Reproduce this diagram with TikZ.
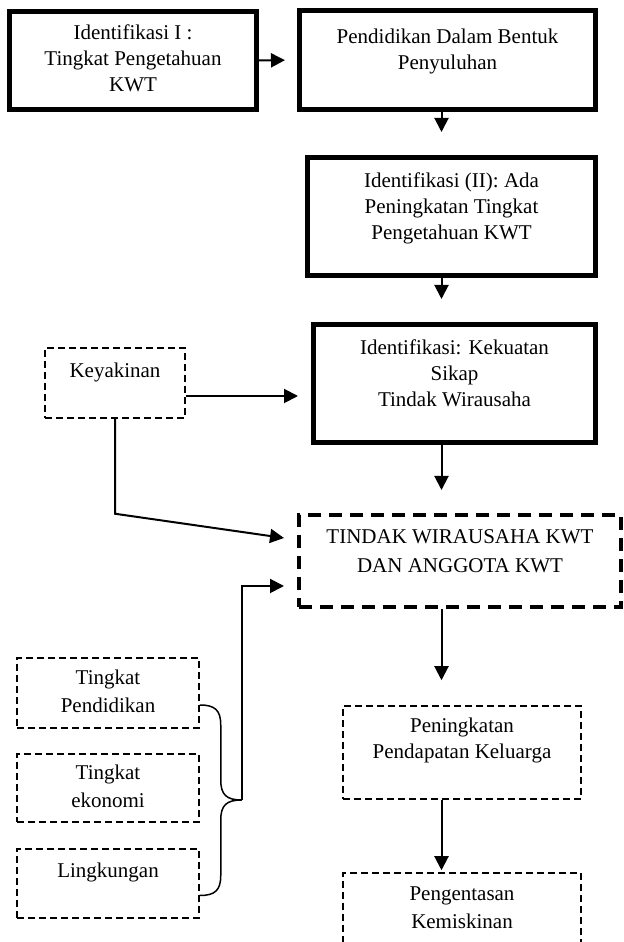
\documentclass[tikz,border=0pt]{standalone}
\usepackage{fontspec}
\setmainfont{Liberation Serif}
\usetikzlibrary{arrows.meta}
\newcommand{\liftup}[2]{\raisebox{#1}[\height][\depth]{\begin{tabular}{@{}c@{}}#2\end{tabular}}}
\begin{document}
\begin{tikzpicture}[>={Triangle[length=14bp,width=14bp]},
  bold box/.style={draw,line width=5bp,inner sep=0pt},
  soft box/.style={draw,line width=1.5bp,dash pattern=on 7bp off 4bp,inner sep=0pt},
  main box/.style={draw,line width=4bp,dash pattern=on 13bp off 8bp,inner sep=0pt},
  link/.style={black,line width=2bp,->},
  font=\fontsize{21bp}{26bp}\selectfont]
%%
\useasboundingbox (0bp,0bp) rectangle (624bp,942bp);
\coordinate (col) at (441.5bp,0bp);
\node (node_1) at (133bp,881.5bp) [bold box,minimum width=247bp,minimum height=98bp] {\liftup{0bp}{Identifikasi I :\\Tingkat Pengetahuan\\KWT}};
  \node (node_2) at (447.5bp,882bp) [bold box,minimum width=296bp,minimum height=99bp] {\liftup{9bp}{Pendidikan Dalam Bentuk\\Penyuluhan}};
  \node (node_3) at (451.5bp,725.5bp) [bold box,minimum width=288bp,minimum height=118bp] {\liftup{8.5bp}{Identifikasi (II): Ada\\Peningkatan Tingkat\\Pengetahuan KWT}};
  \node (node_4) at (454.5bp,558.5bp) [bold box,minimum width=282bp,minimum height=118bp] {\liftup{8.5bp}{Identifikasi: Kekuatan\\Sikap\\Tindak Wirausaha}};
  \node (node_key) at (115bp,559bp) [soft box,minimum width=140bp,minimum height=70bp] {\liftup{11bp}{Keyakinan}};
  \node (node_tindak) at (460bp,381bp) [main box,minimum width=322bp,minimum height=92bp] {\liftup{8bp}{TINDAK WIRAUSAHA KWT\\[3bp]DAN ANGGOTA KWT}};
  \node (node_edu) at (108bp,249bp) [soft box,minimum width=182bp,minimum height=70bp] {\liftup{0bp}{Tingkat\\[2bp]Pendidikan}};
  \node (node_eco) at (108bp,154bp) [soft box,minimum width=182bp,minimum height=68bp] {\liftup{0bp}{Tingkat\\[2bp]ekonomi}};
  \node (node_env) at (108bp,58.5bp) [soft box,minimum width=182bp,minimum height=69bp] {\liftup{11.5bp}{Lingkungan}};
  \node (node_inc) at (462bp,189.5bp) [soft box,minimum width=238bp,minimum height=93bp] {\liftup{12.5bp}{Peningkatan\\Pendapatan Keluarga}};
  \node (node_pov) at (462bp,30.5bp) [soft box,minimum width=238bp,minimum height=77bp] {\liftup{2.5bp}{Pengentasan\\[2bp]Kemiskinan}};
%
  \draw [link,shorten >=12bp] (node_1.east) -- (node_2.west);
  \draw [link,shorten >=23bp] (node_2.south -| col) -- (node_3.north -| col);
  \draw [link,shorten >=23bp] (node_3.south -| col) -- (node_4.north -| col);
  \draw [link,shorten >=23bp] (node_4.south -| col) -- (node_tindak.north -| col);
  \draw [link,shorten >=25bp] (node_tindak.south -| col) -- (node_inc.north -| col);
  \draw [link,shorten >=2bp] (node_inc.south -| col) -- (node_pov.north -| col);
  \draw [link,shorten >=13bp] ([yshift=-13bp]node_key.east) -- ([yshift=-13bp]node_key.east -| node_4.west);
  \draw [link] (node_key.south) -- ++(0bp,-95bp) -- ([xshift=-13bp,yshift=23bp]node_tindak.west);
%
  \draw [black,line width=1.5bp] ([yshift=-12bp]node_edu.east)
    .. controls +(15bp,0bp) and +(0bp,15bp) .. ++(21bp,-20bp)
    -- ++(0bp,-55bp)
    .. controls +(0bp,-15bp) and +(-15bp,0bp) .. ++(21bp,-20bp) coordinate (brace_tip)
    .. controls +(-15bp,0bp) and +(0bp,15bp) .. ++(-21bp,-20bp)
    -- ++(0bp,-55.5bp)
    .. controls +(0bp,-15bp) and +(15bp,0bp) .. ++(-21bp,-20bp);
  \draw [link] (brace_tip) |- ([xshift=-13bp,yshift=-25bp]node_tindak.west);
%
\end{tikzpicture}
\end{document}
